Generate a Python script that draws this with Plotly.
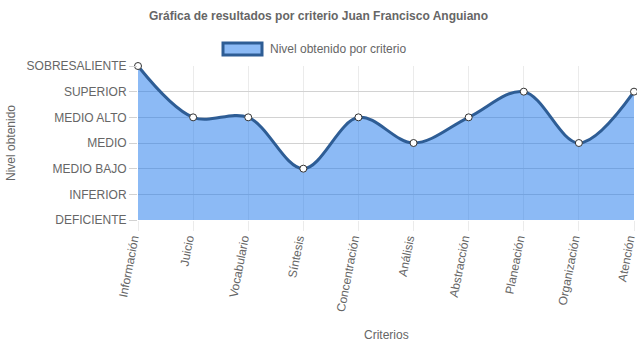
import plotly.graph_objects as go

categories = ["Información", "Juicio", "Vocabulario", "Síntesis", "Concentración",
              "Análisis", "Abstracción", "Planeación", "Organización", "Atención"]
values = [6, 4, 4, 2, 4, 3, 4, 5, 3, 5]
level_vals = [0, 1, 2, 3, 4, 5, 6]
level_labels = ["DEFICIENTE", "INFERIOR", "MEDIO BAJO", "MEDIO", "MEDIO ALTO",
                "SUPERIOR", "SOBRESALIENTE"]
series_name = "Nivel obtenido por criterio"
title_text = "Gráfica de resultados por criterio Juan Francisco Anguiano"
x_title = "Criterios"
y_title = "Nivel obtenido"

FONT = "Liberation Sans, Arial, Helvetica, sans-serif"
FILL = "rgba(25,118,235,0.5)"
LINE = "#2e5d95"

fig = go.Figure()
fig.add_trace(go.Scatter(
    x=categories, y=values, name=series_name, mode="lines+markers",
    line=dict(color=LINE, width=3, shape="spline", smoothing=1.0),
    fill="tozeroy", fillcolor=FILL,
    marker=dict(size=7, color="white", line=dict(color="#333333", width=1)),
    cliponaxis=False, showlegend=False,
))

fig.update_layout(
    width=637, height=348,
    margin=dict(l=138, r=3, t=66, b=128, autoexpand=False),
    paper_bgcolor="white", plot_bgcolor="white",
    font=dict(family=FONT, size=12, color="#666666"),
    title=dict(text="<b>" + title_text + "</b>", x=0.5, xanchor="center",
               y=1 - 16 / 348, yanchor="middle", yref="container",
               font=dict(family=FONT, size=12, color="#666666")),
    xaxis=dict(range=[0, len(categories) - 1], showgrid=True, gridcolor="#ebebeb",
               gridwidth=1, ticks="outside", ticklen=10, tickcolor="#ebebeb",
               tickangle=-79, zeroline=False, showline=False, automargin=False,
               ticklabelshift=-5, ticklabelstandoff=-4,
               tickfont=dict(size=12, color="#666666")),
    yaxis=dict(range=[0, 6], tickvals=level_vals, ticktext=level_labels,
               showgrid=True, gridcolor="#d2d2d2", gridwidth=1, ticks="outside",
               ticklen=8, tickcolor="#d2d2d2", zeroline=False, showline=False,
               automargin=False, tickfont=dict(size=12, color="#666666")),
)

# legend drawn as swatch + label
fig.add_shape(type="rect", xref="paper", yref="paper",
              x0=(223 - 138) / 496, x1=(262 - 138) / 496,
              y0=1 + (66 - 55) / 154, y1=1 + (66 - 43) / 154,
              fillcolor=FILL, line=dict(color=LINE, width=3))
fig.add_annotation(text=series_name, xref="paper", yref="paper",
                   x=(268 - 138) / 496, y=1 + (66 - 49) / 154,
                   xanchor="left", yanchor="middle", showarrow=False,
                   font=dict(size=12, color="#666666"))
# axis titles
fig.add_annotation(text=x_title, xref="paper", yref="paper", x=0.5,
                   y=-(335 - 220) / 154, xanchor="center", yanchor="middle",
                   showarrow=False, font=dict(size=12, color="#666666"))
fig.add_annotation(text=y_title, xref="paper", yref="paper",
                   x=-(138 - 11) / 496, y=0.5, textangle=-90,
                   xanchor="center", yanchor="middle", showarrow=False,
                   font=dict(size=12, color="#666666"))

fig.write_html("out.html")
